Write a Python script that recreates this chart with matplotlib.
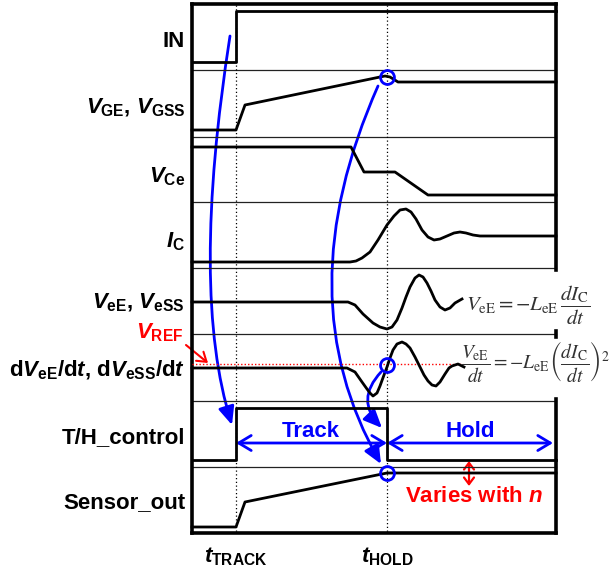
import matplotlib
matplotlib.use("Agg")
import matplotlib.pyplot as plt
from matplotlib.path import Path
from matplotlib.patches import FancyArrowPatch

plt.rcParams['font.family'] = ['Liberation Sans', 'DejaVu Sans']
plt.rcParams['mathtext.fontset'] = 'custom'
plt.rcParams['mathtext.rm'] = 'Liberation Sans:bold'
plt.rcParams['mathtext.it'] = 'Liberation Sans:bold:italic'
plt.rcParams['mathtext.bf'] = 'Liberation Sans:bold'
plt.rcParams['mathtext.sf'] = 'Liberation Sans:bold'

# 時間軸 (描画座標)
t_start = 192
t_track = 236
t_hold = 387
t_end = 556

# 各波形の折れ点 (時間, レベル)
in_t = [192, 236, 236, 556]
in_y = [62, 62, 11, 11]

vge_t = [192, 236, 245, 380, 385, 390, 398, 556]
vge_y = [130, 130, 105, 77, 76, 77, 82, 82]

vce_t = [192, 351, 364, 395, 428, 556]
vce_y = [147, 147, 172, 172, 195, 195]

ic_t = [192, 350, 356, 362, 370, 378, 387, 394, 400, 406, 411, 416, 422, 428, 434,
        440, 447, 454, 460, 466, 473, 480, 487, 556]
ic_y = [262, 262, 261, 258, 252, 240, 225, 216, 210, 209, 212, 219, 230, 237, 240,
        239, 236, 233, 232, 233, 235, 236, 236, 236]

vee_t = [192, 348, 355, 363, 373, 380, 387, 392, 397, 402, 406, 410, 415, 419, 423,
         427, 431, 435, 440, 445, 450, 455, 462]
vee_y = [302, 302, 305, 314, 323, 327, 329, 327, 320, 308, 297, 287, 278, 275, 277,
         283, 291, 300, 307, 310, 308, 303, 299]

dvee_t = [192, 347, 355, 362, 367, 370, 373, 377, 380, 384, 387, 390, 393, 397, 402,
          406, 410, 415, 420, 424, 428, 432, 436, 440, 445, 449, 452, 458, 464]
dvee_y = [368, 368, 372, 382, 389, 393, 396, 393, 386, 375, 367, 358, 350, 344, 342,
          344, 348, 357, 367, 375, 381, 385, 386, 382, 374, 368, 366, 364, 367]

th_t = [192, 236, 236, 387, 387, 556]
th_y = [460, 460, 408, 408, 460, 460]

sens_t = [192, 236, 245, 387, 556]
sens_y = [527, 527, 502, 473, 473]

v_ref = 364
sep_y = [70, 137, 202, 268, 334, 401, 467]

labels = ['IN', r'$V_{\mathrm{GE}}$, $V_{\mathrm{GSS}}$', r'$V_{\mathrm{Ce}}$', r'$I_{\mathrm{C}}$',
          r'$V_{\mathrm{eE}}$, $V_{\mathrm{eSS}}$',
          r'd$V_{\mathrm{eE}}$/d$t$, d$V_{\mathrm{eSS}}$/d$t$', 'T/H_control', 'Sensor_out']
label_y = [47, 113, 182, 247, 308, 376, 443, 508]

BLUE = '#0000ff'
RED = '#ff0000'

fig = plt.figure(figsize=(6.16, 5.69), dpi=100)
ax = fig.add_axes([0, 0, 1, 1])
ax.set_xlim(0, 616)
ax.set_ylim(569, 0)
ax.axis('off')

# 枠と区切り線
for y in sep_y:
    ax.plot([t_start, t_end], [y, y], color='#222222', lw=0.9)
ax.plot([t_start, t_start], [4, 533], color='black', lw=2.6, solid_capstyle='projecting')
ax.plot([t_start, t_end], [4, 4], color='black', lw=2.6, solid_capstyle='projecting')
ax.plot([t_start, t_end], [533, 533], color='black', lw=2.6, solid_capstyle='projecting')
for y0, y1 in [(4, 270), (331, 337), (399, 533)]:
    ax.plot([t_end, t_end], [y0, y1], color='black', lw=2.6)

# 点線
for x in [t_track, t_hold]:
    ax.plot([x, x], [5, 532], color='black', lw=0.9, ls=(0, (1, 2)))
ax.plot([t_start, 463], [v_ref, v_ref], color=RED, lw=1, ls=(0, (1, 1.5)))

# 波形
for xs, ys in [(in_t, in_y), (vge_t, vge_y), (vce_t, vce_y), (ic_t, ic_y),
               (vee_t, vee_y), (dvee_t, dvee_y), (th_t, th_y), (sens_t, sens_y)]:
    ax.plot(xs, ys, color='black', lw=2, solid_joinstyle='round')

# ラベル
for s, y in zip(labels, label_y):
    ax.text(185, y, s, ha='right', va='baseline', fontsize=16, fontweight='bold')
ax.text(236, 562, r'$t_{\mathrm{TRACK}}$', ha='center', va='baseline', fontsize=16)
ax.text(387, 562, r'$t_{\mathrm{HOLD}}$', ha='center', va='baseline', fontsize=16)
ax.text(183, 338, r'$V_{\mathrm{REF}}$', ha='right', va='baseline', fontsize=16, color=RED)
ax.add_patch(FancyArrowPatch((186, 345), (208, 363), arrowstyle='->,head_length=0.45,head_width=0.3',
                             mutation_scale=14, color=RED, lw=1.5, shrinkA=0, shrinkB=0))

# 式
ax.text(466, 305, r'$V_{\mathrm{eE}} = -L_{\mathrm{eE}}\,\dfrac{dI_{\mathrm{C}}}{dt}$',
        math_fontfamily='stix', fontsize=15, color='#333333', va='center', ha='left')
ax.text(461, 361, r'$\dfrac{V_{\mathrm{eE}}}{dt} = -L_{\mathrm{eE}}\left(\dfrac{dI_{\mathrm{C}}}{dt}\right)^2$',
        math_fontfamily='stix', fontsize=14, color='#333333', va='center', ha='left')

# Track / Hold
ax.text(311, 437, 'Track', ha='center', va='baseline', fontsize=16, fontweight='bold', color=BLUE)
ax.text(470, 437, 'Hold', ha='center', va='baseline', fontsize=16, fontweight='bold', color=BLUE)
for a, b in [(t_track, t_hold), (t_hold, 553)]:
    ax.add_patch(FancyArrowPatch((a, 443), (b, 443), arrowstyle='<->,head_length=0.5,head_width=0.3',
                                 mutation_scale=18, color=BLUE, lw=2, shrinkA=0, shrinkB=0))
ax.add_patch(FancyArrowPatch((469, 461), (469, 486), arrowstyle='<->,head_length=0.4,head_width=0.3',
                             mutation_scale=12, color=RED, lw=1.6, shrinkA=0, shrinkB=0))
ax.text(474, 502, 'Varies with $n$', ha='center', va='baseline', fontsize=16, fontweight='bold', color=RED)

# 丸印
for y in [77, v_ref + 1, 473]:
    ax.plot([t_hold], [y], 'o', ms=10, mfc='none', mec=BLUE, mew=2)

# 曲線矢印
curves = [
    [(230, 36), (190, 292), (232, 425)],
    [(378, 86), (285, 296), (381, 464)],
    [(381, 372), (355, 400), (382, 428)],
]
for verts in curves:
    p = Path(verts, [Path.MOVETO, Path.CURVE3, Path.CURVE3])
    ax.add_patch(FancyArrowPatch(path=p, arrowstyle='-|>,head_length=0.5,head_width=0.22',
                                 mutation_scale=22, color=BLUE, lw=2))

plt.savefig('out.png', dpi=100)
